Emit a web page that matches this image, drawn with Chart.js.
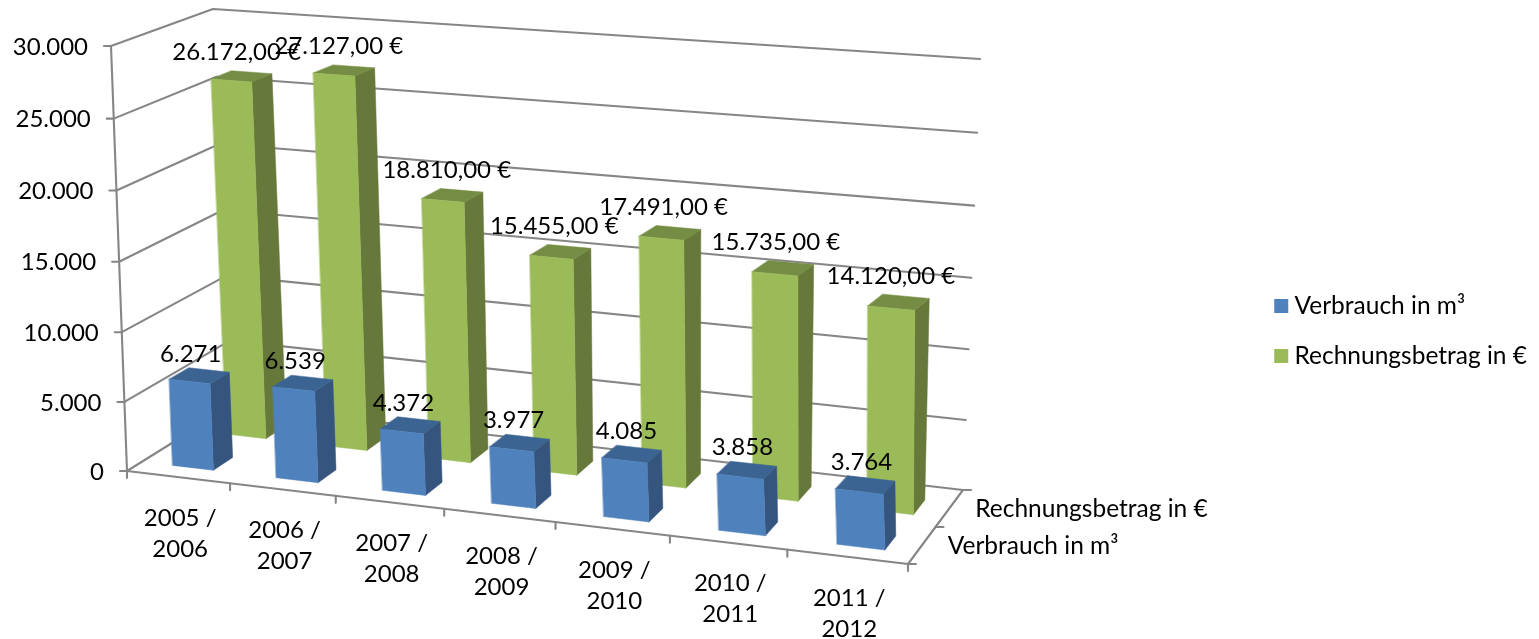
<!DOCTYPE html>
<html><head><meta charset="utf-8">
<style>html,body{margin:0;padding:0;background:#fff}canvas{display:block}</style>
<script src="https://cdn.jsdelivr.net/npm/chart.js@4/dist/chart.umd.js"></script>
</head><body><canvas id="c" width="1539" height="639"></canvas>
<script>
const categories = [["2005 /","2006"],["2006 /","2007"],["2007 /","2008"],["2008 /","2009"],["2009 /","2010"],["2010 /","2011"],["2011 /","2012"]];
const verbrauch = [6271,6539,4372,3977,4085,3858,3764];
const rechnung = [26172,27127,18810,15455,17491,15735,14120];
const seriesNames = ["Verbrauch in m³","Rechnungsbetrag in €"];
const axisMax = 30000, axisStep = 5000;

const FONT = 'Lato', FS = 24;
// projected box of the plot: [x,y] for (u,v,w) corners
const C = {
  f00:[127,471], f10:[908,564], f01:[111,46], f11:[890,102],
  b00:[233,405], b10:[963,490], b01:[213,9],  b11:[980,59]
};
const warp=(t,e)=>t*(1+e)/(1+e*t);
const EU=-0.088, EV=-0.03;
function P(u,v,w){
  const a=warp(u,EU), b=warp(v,EV);
  const m=i=>{
    const f0=C.f00[i]+(C.f10[i]-C.f00[i])*a, f1=C.f01[i]+(C.f11[i]-C.f01[i])*a;
    const k0=C.b00[i]+(C.b10[i]-C.b00[i])*a, k1=C.b01[i]+(C.b11[i]-C.b01[i])*a;
    const f=f0+(f1-f0)*b, k=k0+(k1-k0)*b;
    return f+(k-f)*w;
  };
  return [m(0),m(1)];
}
const thousands=v=>String(v).replace(/\B(?=(\d{3})+(?!\d))/g,'.');
const labelFmt=[v=>thousands(v), v=>thousands(v)+',00 €'];
const depth=[
  {w0:0.14,w1:0.33,wl:0.25,du:u=>0.007*u},
  {w0:0.62,w1:0.82,wl:0.75,du:u=>0.006+0.002*u}
];
const labelDx=[u=>-19+10*u, u=>-15];
const labelDy=[-16,-20];
const faces=[
  {front:'#4F81BD',side:'#35557F',top:'#3C6492'},
  {front:'#9BBB59',side:'#66793A',top:'#748C43'}
];
const GRID='#868686';

function line(ctx,a,b){ctx.beginPath();ctx.moveTo(a[0],a[1]);ctx.lineTo(b[0],b[1]);ctx.stroke();}
function poly(ctx,pts,col){ctx.beginPath();pts.forEach((p,i)=>i?ctx.lineTo(p[0],p[1]):ctx.moveTo(p[0],p[1]));ctx.closePath();ctx.fillStyle=col;ctx.fill();ctx.strokeStyle=col;ctx.lineWidth=0.5;ctx.stroke();}

const threeD={
  id:'threeD',
  beforeDatasetsDraw(chart){
    const {ctx,scales:{x,y}}=chart;
    const nu=p=>(p-x.left)/(x.right-x.left), nv=p=>(y.bottom-p)/(y.bottom-y.top);
    ctx.save();
    ctx.strokeStyle=GRID;ctx.lineWidth=2.1;ctx.lineCap='round';ctx.lineJoin='round';
    // walls
    y.ticks.forEach(t=>{
      const v=nv(y.getPixelForValue(t.value));
      ctx.beginPath();
      const a=P(0,v,0),b=P(0,v,1),c=P(1,v,1);
      ctx.moveTo(a[0],a[1]);ctx.lineTo(b[0],b[1]);ctx.lineTo(c[0],c[1]);ctx.stroke();
      line(ctx,a,[a[0]-7,a[1]]);
    });
    line(ctx,P(0,0,0),P(0,1,0));
    line(ctx,P(0,0,0),P(1,0,0));
    line(ctx,P(1,0,0),P(1,0,1));
    for(let i=0;i<=categories.length;i++){
      const u=i/categories.length,a=P(u,0,0);
      line(ctx,a,[a[0],a[1]+7]);
    }
    for(let k=0;k<=2;k++){const a=P(1,0,k/2);line(ctx,a,[a[0]+8,a[1]]);}
    // bars, back series first
    [1,0].forEach(di=>{
      const d=depth[di],f=faces[di];
      chart.getDatasetMeta(di).data.forEach(el=>{
        const p=el.getProps(['x','y','base','width'],true);
        const s=d.du(nu(p.x));
        const u0=nu(p.x-p.width/2)+s,u1=nu(p.x+p.width/2)+s,v1=nv(p.y),v0=nv(p.base);
        poly(ctx,[P(u1,v0,d.w0),P(u1,v0,d.w1),P(u1,v1,d.w1),P(u1,v1,d.w0)],f.side);
        poly(ctx,[P(u0,v1,d.w0),P(u1,v1,d.w0),P(u1,v1,d.w1),P(u0,v1,d.w1)],f.top);
        poly(ctx,[P(u0,v0,d.w0),P(u1,v0,d.w0),P(u1,v1,d.w0),P(u0,v1,d.w0)],f.front);
      });
    });
    // text
    ctx.fillStyle='#000';ctx.font=FS+'px '+FONT;ctx.textBaseline='middle';
    ctx.textAlign='right';
    y.ticks.forEach(t=>{
      const a=P(0,nv(y.getPixelForValue(t.value)),0);
      ctx.fillText(t.label,a[0]-23,a[1]+1);
    });
    ctx.textAlign='center';
    categories.forEach((c,i)=>{
      const a=P(nu(x.getPixelForValue(i)),0,0);
      c.forEach((s,j)=>ctx.fillText(s,a[0]+2,a[1]+41+j*31));
    });
    ctx.textAlign='left';
    ctx.font=(FS+0.5)+'px '+FONT;
    seriesNames.forEach((s,i)=>{
      const a=P(1,0,depth[i].wl);
      ctx.fillText(s,a[0]+26,a[1]+0.5);
    });
    ctx.font=FS+'px '+FONT;
    ctx.textAlign='center';
    [1,0].forEach(di=>{
      const d=depth[di];
      chart.getDatasetMeta(di).data.forEach((el,i)=>{
        const p=el.getProps(['x','y'],true),u=nu(p.x);
        const a=P(u+d.du(u),nv(p.y),d.w1);
        ctx.fillText(labelFmt[di](chart.data.datasets[di].data[i]),a[0]+labelDx[di](u),a[1]+labelDy[di]);
      });
    });
    ctx.restore();
    return false;
  }
};

new Chart(document.getElementById('c'),{
  type:'bar',
  data:{labels:categories,datasets:[
    {label:seriesNames[0],data:verbrauch,backgroundColor:faces[0].front,grouped:false,barPercentage:0.4,categoryPercentage:1},
    {label:seriesNames[1],data:rechnung,backgroundColor:faces[1].front,grouped:false,barPercentage:0.4,categoryPercentage:1}
  ]},
  options:{
    responsive:false,animation:false,
    layout:{padding:{top:23,right:2}},
    scales:{
      x:{display:false},
      y:{display:false,min:0,max:axisMax,ticks:{stepSize:axisStep,callback:v=>thousands(v)}}
    },
    plugins:{
      tooltip:{enabled:false},
      legend:{position:'right',labels:{font:{family:FONT,size:FS+0.5},color:'#000',boxWidth:2,boxHeight:2,padding:25.5,
        generateLabels(chart){
          return Chart.defaults.plugins.legend.labels.generateLabels(chart).map(it=>({...it,lineWidth:12,strokeStyle:it.fillStyle,lineJoin:'miter'}));
        }}}
    }
  },
  plugins:[threeD]
});
</script></body></html>
